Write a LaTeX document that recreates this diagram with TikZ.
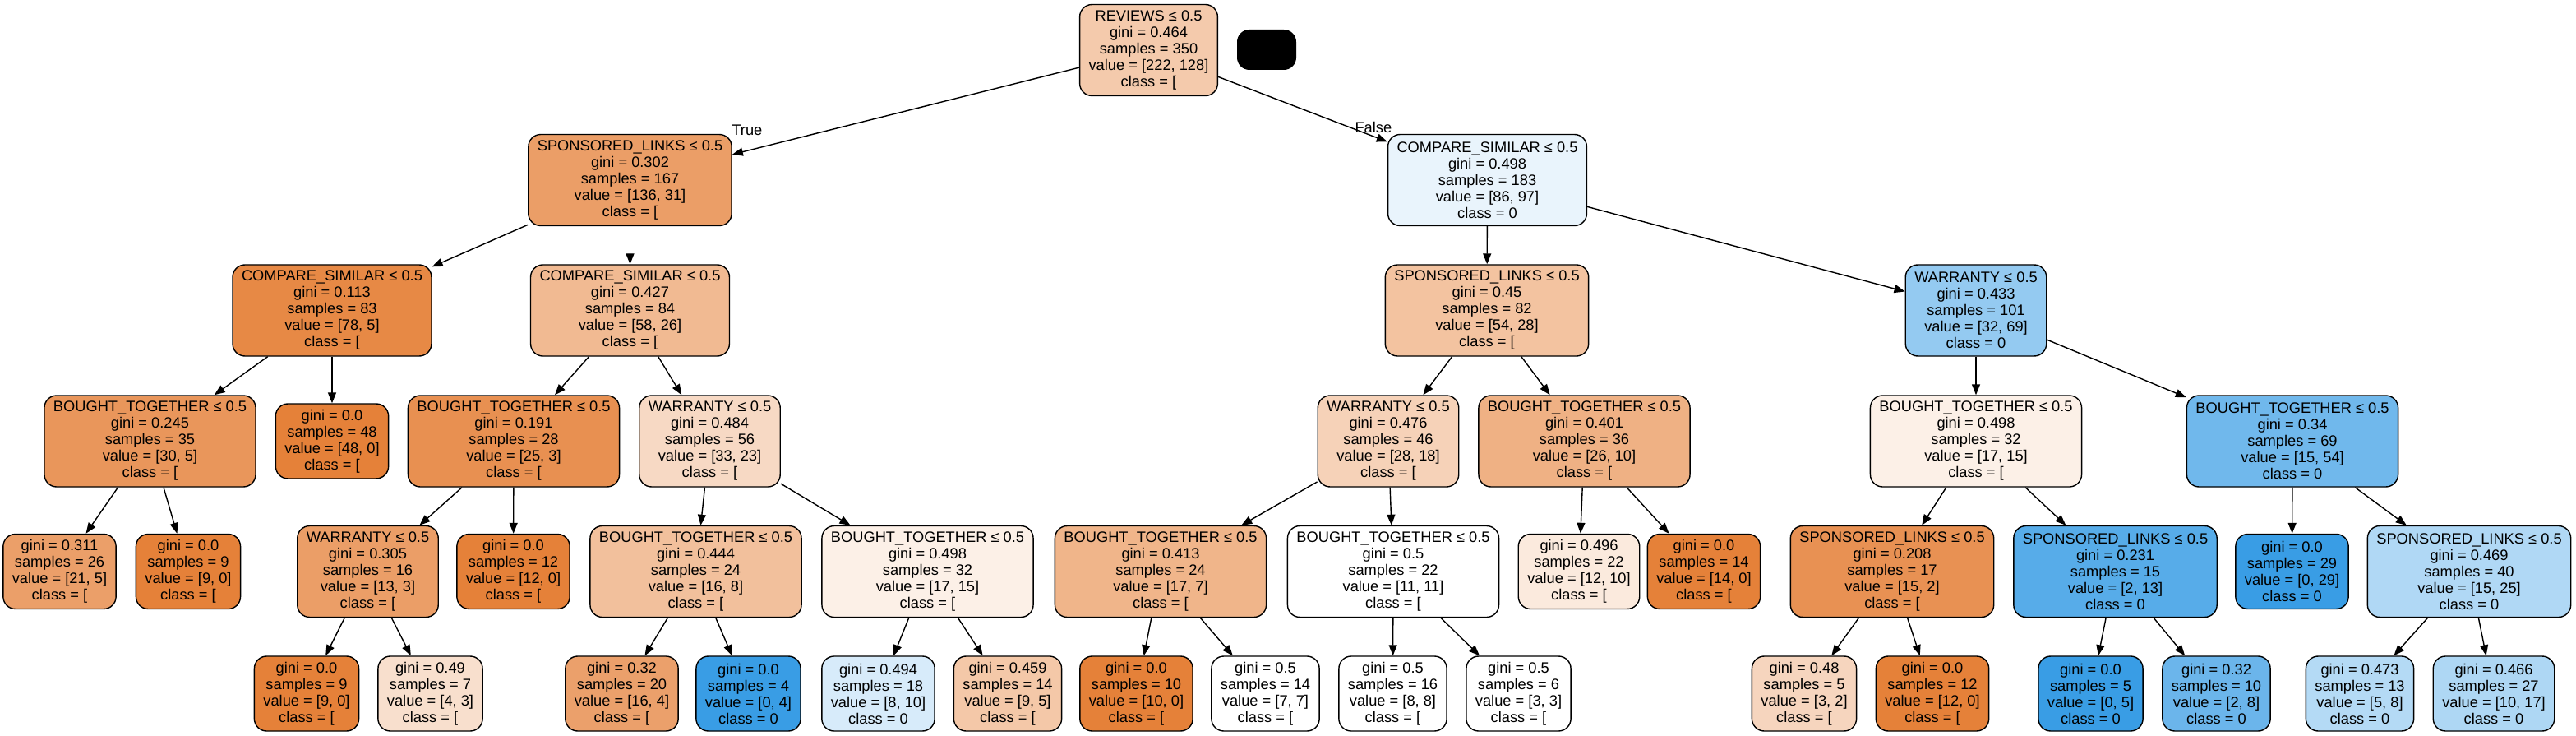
\documentclass[tikz,border=0pt]{standalone}
\usepackage{fontspec}
\setmainfont{Liberation Sans}
\usetikzlibrary{arrows.meta}
\definecolor{cls0}{RGB}{229,129,57}
\definecolor{cls1}{RGB}{57,157,229}
\newcommand{\treefont}{\fontsize{5.2pt}{5.69pt}\selectfont}
\tikzset{
  splitnode/.style={
    rectangle, rounded corners=0.15cm,
    minimum height=1.11cm,
    inner xsep=0.11cm, inner ysep=0pt,
    align=center,
    draw=black, line width=0.4pt,
    font=\treefont
  },
  leafnode/.style={splitnode, minimum height=0.91cm},
  arrow/.style={-{Triangle[length=0.13cm, width=0.1cm]}, line width=0.4pt, black},
  edgelabel/.style={font=\treefont, inner sep=0pt}
}

\begin{document}
\begin{tikzpicture}
  \useasboundingbox (0,0) rectangle (31.34,-8.95);

  % Root and legend box
  \node[splitnode, fill=cls0!42] (n0) at (13.975,-0.61) {REVIEWS ≤ 0.5\\gini = 0.464\\samples = 350\\value = [222, 128]\\class = [};
  \node[fill=black, rounded corners=0.15cm, minimum width=0.72cm, minimum height=0.49cm, inner sep=0pt] (legend) at (15.41,-0.605) {};

  % Depth 1
  \node[splitnode, fill=cls0!77] (n1) at (7.665,-2.19) {SPONSORED\_LINKS ≤ 0.5\\gini = 0.302\\samples = 167\\value = [136, 31]\\class = [};
  \node[splitnode, fill=cls1!11] (n20) at (18.095,-2.19) {COMPARE\_SIMILAR ≤ 0.5\\gini = 0.498\\samples = 183\\value = [86, 97]\\class = 0};

  % Depth 2
  \node[splitnode, fill=cls0!94] (n2) at (4.04,-3.775) {COMPARE\_SIMILAR ≤ 0.5\\gini = 0.113\\samples = 83\\value = [78, 5]\\class = [};
  \node[splitnode, fill=cls0!55] (n7) at (7.665,-3.775) {COMPARE\_SIMILAR ≤ 0.5\\gini = 0.427\\samples = 84\\value = [58, 26]\\class = [};
  \node[splitnode, fill=cls0!48] (n21) at (18.09,-3.775) {SPONSORED\_LINKS ≤ 0.5\\gini = 0.45\\samples = 82\\value = [54, 28]\\class = [};
  \node[splitnode, fill=cls1!54] (n32) at (24.04,-3.775) {WARRANTY ≤ 0.5\\gini = 0.433\\samples = 101\\value = [32, 69]\\class = 0};

  % Depth 3
  \node[splitnode, fill=cls0!83] (n3) at (1.825,-5.365) {BOUGHT\_TOGETHER ≤ 0.5\\gini = 0.245\\samples = 35\\value = [30, 5]\\class = [};
  \node[leafnode, fill=cls0] (n6) at (4.04,-5.365) {gini = 0.0\\samples = 48\\value = [48, 0]\\class = [};
  \node[splitnode, fill=cls0!88] (n8) at (6.25,-5.365) {BOUGHT\_TOGETHER ≤ 0.5\\gini = 0.191\\samples = 28\\value = [25, 3]\\class = [};
  \node[splitnode, fill=cls0!30] (n13) at (8.635,-5.365) {WARRANTY ≤ 0.5\\gini = 0.484\\samples = 56\\value = [33, 23]\\class = [};
  \node[splitnode, fill=cls0!36] (n22) at (16.89,-5.365) {WARRANTY ≤ 0.5\\gini = 0.476\\samples = 46\\value = [28, 18]\\class = [};
  \node[splitnode, fill=cls0!62] (n29) at (19.275,-5.365) {BOUGHT\_TOGETHER ≤ 0.5\\gini = 0.401\\samples = 36\\value = [26, 10]\\class = [};
  \node[splitnode, fill=cls0!12] (n33) at (24.04,-5.365) {BOUGHT\_TOGETHER ≤ 0.5\\gini = 0.498\\samples = 32\\value = [17, 15]\\class = [};
  \node[splitnode, fill=cls1!72] (n40) at (27.89,-5.365) {BOUGHT\_TOGETHER ≤ 0.5\\gini = 0.34\\samples = 69\\value = [15, 54]\\class = 0};

  % Depth 4
  \node[leafnode, fill=cls0!76] (n4) at (0.725,-6.95) {gini = 0.311\\samples = 26\\value = [21, 5]\\class = [};
  \node[leafnode, fill=cls0] (n5) at (2.29,-6.95) {gini = 0.0\\samples = 9\\value = [9, 0]\\class = [};
  \node[splitnode, fill=cls0!77] (n9) at (4.475,-6.95) {WARRANTY ≤ 0.5\\gini = 0.305\\samples = 16\\value = [13, 3]\\class = [};
  \node[leafnode, fill=cls0] (n12) at (6.245,-6.95) {gini = 0.0\\samples = 12\\value = [12, 0]\\class = [};
  \node[splitnode, fill=cls0!50] (n14) at (8.465,-6.95) {BOUGHT\_TOGETHER ≤ 0.5\\gini = 0.444\\samples = 24\\value = [16, 8]\\class = [};
  \node[splitnode, fill=cls0!12] (n17) at (11.285,-6.95) {BOUGHT\_TOGETHER ≤ 0.5\\gini = 0.498\\samples = 32\\value = [17, 15]\\class = [};
  \node[splitnode, fill=cls0!59] (n23) at (14.12,-6.95) {BOUGHT\_TOGETHER ≤ 0.5\\gini = 0.413\\samples = 24\\value = [17, 7]\\class = [};
  \node[splitnode, fill=white] (n26) at (16.95,-6.95) {BOUGHT\_TOGETHER ≤ 0.5\\gini = 0.5\\samples = 22\\value = [11, 11]\\class = [};
  \node[leafnode, fill=cls0!17] (n30) at (19.21,-6.95) {gini = 0.496\\samples = 22\\value = [12, 10]\\class = [};
  \node[leafnode, fill=cls0] (n31) at (20.73,-6.95) {gini = 0.0\\samples = 14\\value = [14, 0]\\class = [};
  \node[splitnode, fill=cls0!87] (n34) at (23.02,-6.95) {SPONSORED\_LINKS ≤ 0.5\\gini = 0.208\\samples = 17\\value = [15, 2]\\class = [};
  \node[splitnode, fill=cls1!85] (n37) at (25.735,-6.95) {SPONSORED\_LINKS ≤ 0.5\\gini = 0.231\\samples = 15\\value = [2, 13]\\class = 0};
  \node[leafnode, fill=cls1] (n41) at (27.885,-6.95) {gini = 0.0\\samples = 29\\value = [0, 29]\\class = 0};
  \node[splitnode, fill=cls1!40] (n42) at (30.04,-6.95) {SPONSORED\_LINKS ≤ 0.5\\gini = 0.469\\samples = 40\\value = [15, 25]\\class = 0};

  % Depth 5
  \node[leafnode, fill=cls0] (n10) at (3.73,-8.435) {gini = 0.0\\samples = 9\\value = [9, 0]\\class = [};
  \node[leafnode, fill=cls0!25] (n11) at (5.235,-8.435) {gini = 0.49\\samples = 7\\value = [4, 3]\\class = [};
  \node[leafnode, fill=cls0!75] (n15) at (7.565,-8.435) {gini = 0.32\\samples = 20\\value = [16, 4]\\class = [};
  \node[leafnode, fill=cls1] (n16) at (9.105,-8.435) {gini = 0.0\\samples = 4\\value = [0, 4]\\class = 0};
  \node[leafnode, fill=cls1!20] (n18) at (10.685,-8.435) {gini = 0.494\\samples = 18\\value = [8, 10]\\class = 0};
  \node[leafnode, fill=cls0!44] (n19) at (12.26,-8.435) {gini = 0.459\\samples = 14\\value = [9, 5]\\class = [};
  \node[leafnode, fill=cls0] (n24) at (13.825,-8.435) {gini = 0.0\\samples = 10\\value = [10, 0]\\class = [};
  \node[leafnode, fill=white] (n25) at (15.395,-8.435) {gini = 0.5\\samples = 14\\value = [7, 7]\\class = [};
  \node[leafnode, fill=white] (n27) at (16.945,-8.435) {gini = 0.5\\samples = 16\\value = [8, 8]\\class = [};
  \node[leafnode, fill=white] (n28) at (18.475,-8.435) {gini = 0.5\\samples = 6\\value = [3, 3]\\class = [};
  \node[leafnode, fill=cls0!33] (n35) at (21.95,-8.435) {gini = 0.48\\samples = 5\\value = [3, 2]\\class = [};
  \node[leafnode, fill=cls0] (n36) at (23.51,-8.435) {gini = 0.0\\samples = 12\\value = [12, 0]\\class = [};
  \node[leafnode, fill=cls1] (n38) at (25.435,-8.435) {gini = 0.0\\samples = 5\\value = [0, 5]\\class = 0};
  \node[leafnode, fill=cls1!75] (n39) at (26.965,-8.435) {gini = 0.32\\samples = 10\\value = [2, 8]\\class = 0};
  \node[leafnode, fill=cls1!38] (n43) at (28.71,-8.435) {gini = 0.473\\samples = 13\\value = [5, 8]\\class = 0};
  \node[leafnode, fill=cls1!41] (n44) at (30.34,-8.435) {gini = 0.466\\samples = 27\\value = [10, 17]\\class = 0};

  % Root split
  \draw[arrow] (n0) -- (n1) node[edgelabel, at end, xshift=0.18cm, yshift=0.3cm] {True};
  \draw[arrow] (n0) -- (n20) node[edgelabel, at end, xshift=-0.17cm, yshift=0.17cm] {False};

  % Left subtree
  \draw[arrow] (n1) -- (n2);
  \draw[arrow] (n1) -- (n7);
  \draw[arrow] (n2) -- (n3);
  \draw[arrow] (n2) -- (n6);
  \draw[arrow] (n3) -- (n4);
  \draw[arrow] (n3) -- (n5);
  \draw[arrow] (n7) -- (n8);
  \draw[arrow] (n7) -- (n13);
  \draw[arrow] (n8) -- (n9);
  \draw[arrow] (n8) -- (n12);
  \draw[arrow] (n9) -- (n10);
  \draw[arrow] (n9) -- (n11);
  \draw[arrow] (n13) -- (n14);
  \draw[arrow] (n13) -- (n17);
  \draw[arrow] (n14) -- (n15);
  \draw[arrow] (n14) -- (n16);
  \draw[arrow] (n17) -- (n18);
  \draw[arrow] (n17) -- (n19);

  % Right subtree
  \draw[arrow] (n20) -- (n21);
  \draw[arrow] (n20) -- (n32);
  \draw[arrow] (n21) -- (n22);
  \draw[arrow] (n21) -- (n29);
  \draw[arrow] (n22) -- (n23);
  \draw[arrow] (n22) -- (n26);
  \draw[arrow] (n23) -- (n24);
  \draw[arrow] (n23) -- (n25);
  \draw[arrow] (n26) -- (n27);
  \draw[arrow] (n26) -- (n28);
  \draw[arrow] (n29) -- (n30);
  \draw[arrow] (n29) -- (n31);
  \draw[arrow] (n32) -- (n33);
  \draw[arrow] (n32) -- (n40);
  \draw[arrow] (n33) -- (n34);
  \draw[arrow] (n33) -- (n37);
  \draw[arrow] (n34) -- (n35);
  \draw[arrow] (n34) -- (n36);
  \draw[arrow] (n37) -- (n38);
  \draw[arrow] (n37) -- (n39);
  \draw[arrow] (n40) -- (n41);
  \draw[arrow] (n40) -- (n42);
  \draw[arrow] (n42) -- (n43);
  \draw[arrow] (n42) -- (n44);

\end{tikzpicture}
\end{document}
